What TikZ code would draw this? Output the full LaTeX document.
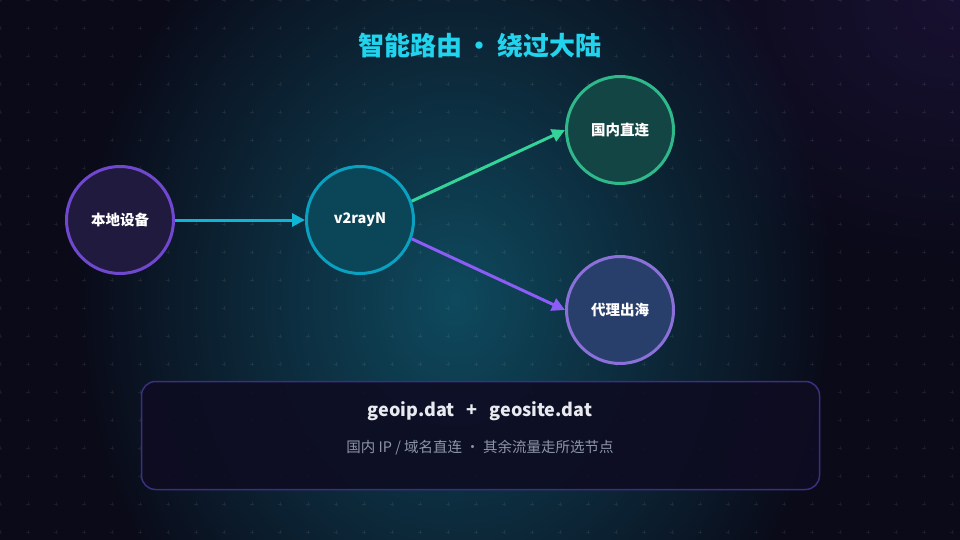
\documentclass[tikz,border=0pt]{standalone}
\usepackage{fontspec}
\setmainfont{Noto Sans CJK SC}
\usetikzlibrary{arrows.meta,fadings}
\definecolor{bg}{HTML}{0A0A18}
\definecolor{glowc}{HTML}{0F4A5E}
\definecolor{purpc}{HTML}{181131}
\definecolor{titlec}{HTML}{22D3EE}
\definecolor{afill}{HTML}{201A3E}\definecolor{aline}{HTML}{7048D0}
\definecolor{bfill}{HTML}{0A4558}\definecolor{bline}{HTML}{0AA0C0}
\definecolor{cfill}{HTML}{134545}\definecolor{cline}{HTML}{2FB98A}
\definecolor{dfill}{HTML}{283F6C}\definecolor{dline}{HTML}{8A70D8}
\definecolor{abarrow}{HTML}{10B4D4}
\definecolor{bcarrow}{HTML}{34D399}
\definecolor{bdarrow}{HTML}{8B5CF6}
\definecolor{boxfill}{HTML}{0E0C22}
\definecolor{boxline}{HTML}{3A3080}
\definecolor{maintext}{HTML}{E8EAF0}
\definecolor{subtext}{HTML}{8E95A8}
\tikzfading[name=softglow, inner color=transparent!0, outer color=transparent!100]
\tikzset{
  circnode/.style={circle, line width=3pt, minimum size=107pt, inner sep=0pt, text=white, font=\bfseries\fontsize{14.5}{16}\selectfont},
  conn/.style={line width=3pt, -{Triangle[length=13pt,width=13pt]}},
  gridmark/.style={white, opacity=0.07, line width=0.8pt},
}
\begin{document}
\begin{tikzpicture}[x=1pt,y=-1pt]
\useasboundingbox (0,0) rectangle (960,540);
\begin{scope}
\clip (0,0) rectangle (960,540);
\fill[bg] (0,0) rectangle (960,540);
\fill[purpc, path fading=softglow] (960,0) ellipse (340 and 280);
\fill[glowc, path fading=softglow] (455,300) ellipse (380 and 460);
\foreach \i in {0,...,34}{
  \foreach \j in {0,...,19}{
    \draw[gridmark] (28*\i-2,28*\j) -- (28*\i+2,28*\j) (28*\i,28*\j-2) -- (28*\i,28*\j+2);
  }
}
\end{scope}
\node[text=titlec, font=\bfseries\fontsize{26}{30}\selectfont] (title) at (480,46) {智能路由\,•\,绕过大陆};
\node[circnode, fill=afill, draw=aline] (A) at (120,220) {本地设备};
\node[circnode, fill=bfill, draw=bline] (B) at (360,220) {v2rayN};
\node[circnode, fill=cfill, draw=cline] (C) at (620,130) {国内直连};
\node[circnode, fill=dfill, draw=dline] (D) at (620,310) {代理出海};
\draw[conn, abarrow] (A.east) -- (B.west);
\draw[conn, bcarrow] (B.20) -- (C.west);
\draw[conn, bdarrow] (B.-20) -- (D.west);
\node[draw=boxline, line width=1.5pt, fill=boxfill, fill opacity=0.9, rounded corners=14pt, minimum width=678pt, minimum height=108pt, inner sep=0pt] (box) at (480.5,435.5) {};
\node[text=maintext, font=\bfseries\fontsize{18}{20}\selectfont] (files) at (480,411) {geoip.dat\hspace{12pt}+\hspace{12pt}geosite.dat};
\node[text=subtext, font=\fontsize{14.5}{16}\selectfont] (desc) at (480,448) {国内 IP / 域名直连 · 其余流量走所选节点};
\end{tikzpicture}
\end{document}
